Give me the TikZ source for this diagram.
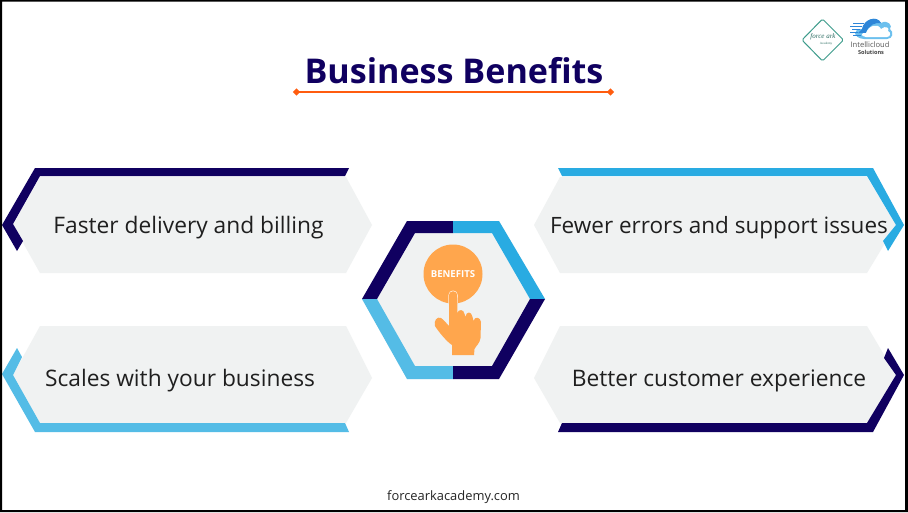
\documentclass[tikz,border=0pt]{standalone}
\usepackage{fontspec}
\setmainfont{Open Sans}
\newfontfamily\scriptfam[Ligatures=TeX]{Liberation Serif}
\definecolor{navy}{HTML}{100060}
\definecolor{skyb}{HTML}{29ABE2}
\definecolor{lightb}{HTML}{54BCE6}
\definecolor{panel}{HTML}{F0F2F2}
\definecolor{fingerc}{HTML}{FFA64D}
\definecolor{linec}{HTML}{FF5C0F}
\definecolor{tealc}{HTML}{3E9C8C}
\definecolor{cloudc}{HTML}{2E86D8}
\definecolor{cloudl}{HTML}{6CC0EE}
\tikzset{
  panelshape/.style={fill=panel,draw=none},
  label text/.style={text=black!88,font=\fontsize{22.75}{26}\selectfont,inner sep=0pt,anchor=base},
}
\begin{document}
\begin{tikzpicture}[x=1pt,y=-1pt]
\useasboundingbox (0,0) rectangle (908,512);
\fill[white] (0,0) rectangle (908,512);
% panels
\fill[panelshape] (40,177)--(346,177)--(372,225)--(346,273)--(40,273)--(13,225)--cycle;
\fill[panelshape] (40,326)--(346,326)--(372,378)--(346,423)--(40,423)--(13,375)--cycle;
\fill[panelshape] (560,177)--(867,177)--(896,225)--(867,273)--(560,273)--(534,225)--cycle;
\fill[panelshape] (560,326)--(867,326)--(896,375)--(867,423)--(560,423)--(534,378)--cycle;
% bands
\fill[navy] (349,168)--(35,168)--(2,225)--(17,251)--(23,241)--(13,224)--(40,176)--(345,176)--cycle;
\fill[lightb] (349,432)--(35,432)--(2,374)--(17,348)--(22,357)--(13,375)--(40,423)--(345,423)--cycle;
\fill[skyb] (558,168)--(873,168)--(904,225)--(888,251)--(883,241)--(896,225)--(867,176)--(562,176)--cycle;
\fill[navy] (558,432)--(873,432)--(904,375)--(888,348)--(884,358)--(896,375)--(867,423)--(562,423)--cycle;
% centre hexagon
\fill[panel] (407,221)--(499,221)--(545,299)--(499,379)--(407,379)--(362,299)--cycle;
\fill[navy] (453,221)--(407,221)--(362,299)--(377,299)--(415,233)--(453,233)--cycle;
\fill[skyb] (453,221)--(499,221)--(545,299)--(530,299)--(492,233)--(453,233)--cycle;
\fill[lightb] (453,379)--(407,379)--(362,299)--(377,299)--(415,366)--(453,366)--cycle;
\fill[navy] (453,379)--(499,379)--(545,299)--(530,299)--(492,366)--(453,366)--cycle;
% button and hand
\fill[fingerc] (453,274) circle[radius=29.5];
\node[text=white,font=\bfseries\fontsize{9.6}{10}\selectfont,inner sep=0pt] (button) at (453,274.5) {BENEFITS};
\draw[white!80!fingerc,line width=0.7pt,fill=fingerc] (448.8,303) -- (448.8,295) .. controls (448.8,289.5) and (457.4,289.5) .. (457.4,295) -- (457.4,303);
\fill[fingerc] (449,295) .. controls (449,290.5) and (457.2,290.5) .. (457.2,295)
  -- (457.5,313) .. controls (458,309) and (464,309) .. (464.5,314)
  -- (465.5,317) .. controls (466,311) and (471.5,311) .. (472.5,317)
  -- (473.5,321) .. controls (474.5,316) and (480.5,317) .. (481,322)
  -- (480.5,338) .. controls (480,343) and (476,346) .. (474.5,349)
  -- (474,355) -- (452,355) -- (452,345)
  .. controls (447,342) and (438,331) .. (435,326)
  .. controls (433.5,321) and (437,316) .. (441,318)
  .. controls (444,320) and (447,324) .. (449,326) -- cycle;
% texts
\node[label text] (t1) at (188.5,233.5) {Faster delivery and billing};
\node[label text] (t2) at (180,386.5) {Scales with your business};
\node[label text,font=\fontsize{22.5}{26}\selectfont] (t3) at (719,233.5) {Fewer errors and support issues};
\node[label text] (t4) at (719,386.5) {Better customer experience};
% title
\node[text=navy,font=\bfseries\fontsize{34.1}{36}\selectfont,inner sep=0pt,anchor=base] (title) at (454,83.5) {Business Benefits};
\coordinate (ul) at (296.5,92);
\coordinate (ur) at (610.5,92);
\draw[linec,line width=1.7pt] (ul) -- (ur);
\fill[linec] (ul) +(-3.6,0) -- +(0,-3.6) -- +(3.6,0) -- +(0,3.6) -- cycle;
\fill[linec] (ur) +(-3.6,0) -- +(0,-3.6) -- +(3.6,0) -- +(0,3.6) -- cycle;
\node[text=black!85,font=\fontsize{12.9}{14}\selectfont,inner sep=0pt,anchor=base] (foot) at (453.5,500) {forcearkacademy.com};
% logos
\draw[tealc,line width=1pt,rounded corners=1.5pt] (822.5,19)--(843.5,40)--(822.5,61)--(802,40)--cycle;
\node[text=tealc!70!black,font=\scriptfam\itshape\fontsize{7}{8}\selectfont,inner sep=0pt] (lg1) at (823,36.5) {force ark};
\node[text=tealc!70!black,font=\scriptfam\fontsize{3.2}{4}\selectfont,inner sep=0pt] (lg2) at (826,43.5) {Academy};
\fill[cloudl] (864,39) .. controls (852,38) and (853,28) .. (862,29) .. controls (864,19) and (877,15) .. (881,23) .. controls (888,19) and (893,26) .. (890,29) .. controls (894,32) and (893,39) .. (887,39) -- cycle;
\fill[cloudc] (862,29) .. controls (864,19) and (877,15) .. (881,23) .. controls (876,22) and (868,25) .. (866,33) -- (858,33) -- cycle;
\fill[white] (866,37) .. controls (860,36.5) and (861,32) .. (866,33) .. controls (869,25) and (878,23) .. (881,29) .. controls (886,25) and (890,28) .. (888,31) .. controls (891,32) and (891,37) .. (887,37) -- cycle;
\foreach \yy/\xa/\xb in {23/853/864,26/850/862,29/852/860,32/850/858,35/853/861}{
  \draw[cloudc,line width=1pt] (\xa,\yy) -- (\xb,\yy);
}
\node[text=black!65,font=\fontsize{7.6}{8}\selectfont,inner sep=0pt] (lg3) at (870,45) {Intellicloud};
\node[text=black!75,font=\bfseries\fontsize{5.6}{6}\selectfont,inner sep=0pt] (lg4) at (871,52) {Solutions};
% frame
\fill[black,even odd rule] (0,0) rectangle (908,512) (2,1.5) rectangle (905,510);
\end{tikzpicture}
\end{document}
